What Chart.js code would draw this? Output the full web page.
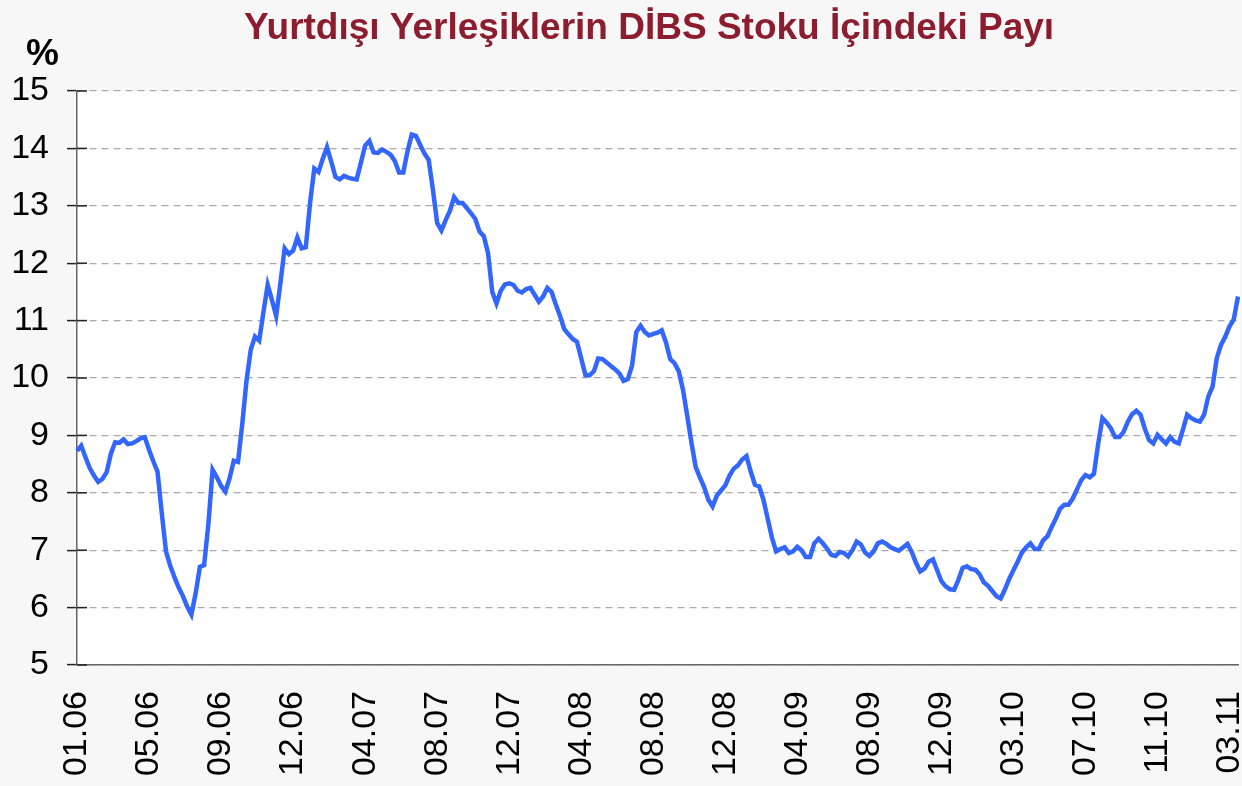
<!DOCTYPE html>
<html>
<head>
<meta charset="utf-8">
<script src="https://cdn.jsdelivr.net/npm/chart.js@4"></script>
<style>
  html, body { margin: 0; padding: 0; background: #f7f7f7; }
  #wrap { width: 1242px; height: 786px; }
</style>
</head>
<body>
<div id="wrap"><canvas id="payChart"></canvas></div>
<script>
const title = 'Yurtdışı Yerleşiklerin DİBS Stoku İçindeki Payı';
const unit = '%';
// every 17th week gets a label
const tickLabels = ['01.06','05.06','09.06','12.06','04.07','08.07','12.07','04.08','08.08',
  '12.08','04.09','08.09','12.09','03.10','07.10','11.10','03.11'];
// weekly share, %
const pay = [
  8.73, 8.82, 8.62, 8.43, 8.30, 8.19, 8.24, 8.36, 8.68, 8.88,
  8.87, 8.93, 8.85, 8.86, 8.90, 8.95, 8.97, 8.75, 8.55, 8.37,
  7.65, 6.98, 6.73, 6.53, 6.35, 6.20, 6.02, 5.88, 6.25, 6.71,
  6.74, 7.45, 8.40, 8.27, 8.12, 8.02, 8.25, 8.56,
  8.54, 9.20, 9.95, 10.49, 10.72, 10.65, 11.15, 11.62, 11.36, 11.08,
  11.65, 12.26, 12.16, 12.22, 12.45, 12.26, 12.28, 13.05, 13.65, 13.59,
  13.82, 14.02, 13.77, 13.50, 13.46, 13.52, 13.49, 13.47, 13.46, 13.75,
  14.05, 14.13, 13.93, 13.92, 13.98, 13.94, 13.89, 13.78, 13.58,
  13.58, 13.95, 14.24, 14.22, 14.06, 13.91, 13.80, 13.28, 12.70, 12.57,
  12.75, 12.91, 13.15, 13.05, 13.05, 12.96, 12.87, 12.77, 12.55, 12.47,
  12.18, 11.50, 11.30, 11.52, 11.63, 11.65, 11.62, 11.52, 11.49, 11.55,
  11.57, 11.45, 11.33, 11.42, 11.57, 11.50, 11.28, 11.08, 10.85,
  10.76, 10.68, 10.63, 10.34, 10.05, 10.05, 10.12, 10.34, 10.33, 10.27,
  10.21, 10.15, 10.08, 9.95, 9.98, 10.22, 10.80, 10.91, 10.80, 10.74,
  10.77, 10.79, 10.83, 10.62, 10.33, 10.26, 10.12, 9.80, 9.35, 8.88,
  8.45, 8.27,
  8.10, 7.88, 7.76, 7.95, 8.04, 8.13, 8.30, 8.42, 8.48, 8.58,
  8.64, 8.37, 8.14, 8.11, 7.88, 7.55, 7.22, 6.98, 7.02, 7.05,
  6.95, 6.98, 7.06, 7.00, 6.88, 6.88, 7.12, 7.20, 7.12, 7.03,
  6.92, 6.90, 6.97, 6.95, 6.89, 7.00, 7.15, 7.10, 6.96, 6.90,
  6.98, 7.12, 7.15, 7.11, 7.05,
  7.02, 6.99, 7.05, 7.11, 6.97, 6.78, 6.63, 6.68, 6.80, 6.84,
  6.65, 6.46, 6.37, 6.32, 6.31, 6.48, 6.69, 6.72, 6.67, 6.66,
  6.58, 6.44, 6.38, 6.29, 6.20, 6.16, 6.32, 6.50, 6.65, 6.80,
  6.96, 7.05, 7.12, 7.02, 7.02, 7.17, 7.24, 7.40, 7.55,
  7.72, 7.79, 7.79, 7.90, 8.06, 8.22, 8.31, 8.27, 8.33, 8.85,
  9.30, 9.22, 9.12, 8.97, 8.97, 9.06, 9.24, 9.37, 9.43, 9.36,
  9.12, 8.92, 8.86, 9.01, 8.93, 8.86, 8.97, 8.89, 8.86, 9.10,
  9.36, 9.30, 9.26, 9.24, 9.36, 9.68, 9.85, 10.35, 10.58, 10.72,
  10.90, 11.02, 11.42
];
const weeks = pay.map((v, i) => i);

Chart.defaults.font.family = '"Liberation Sans", Arial, sans-serif';

// white plot area on a light grey page
const plotBg = {
  id: 'plotBg',
  beforeDraw(chart) {
    const { ctx, chartArea: a } = chart;
    ctx.save();
    ctx.fillStyle = '#fff';
    ctx.fillRect(a.left, a.top, a.right - a.left + 2, a.bottom - a.top);
    ctx.restore();
  }
};

// y ticks cross the axis, draw the inner half
const innerTicks = {
  id: 'innerTicks',
  beforeDatasetsDraw(chart) {
    const { ctx, chartArea: a, scales: { y } } = chart;
    ctx.save();
    ctx.strokeStyle = '#222';
    ctx.lineWidth = 1.5;
    y.ticks.forEach(t => {
      const py = y.getPixelForValue(t.value);
      ctx.beginPath();
      ctx.moveTo(a.left, py);
      ctx.lineTo(a.left + 10, py);
      ctx.stroke();
    });
    ctx.restore();
  }
};

const headings = {
  id: 'headings',
  afterDraw(chart) {
    const { ctx } = chart;
    ctx.save();
    ctx.font = 'bold 37px "Liberation Sans", Arial, sans-serif';
    ctx.textBaseline = 'alphabetic';
    ctx.fillStyle = '#8c1d2f';
    ctx.textAlign = 'center';
    ctx.fillText(title, 649, 39);
    ctx.fillStyle = '#000';
    ctx.textAlign = 'left';
    ctx.fillText(unit, 26, 65);
    ctx.restore();
  }
};

new Chart(document.getElementById('payChart'), {
  type: 'line',
  data: {
    labels: weeks,
    datasets: [{
      data: pay,
      borderColor: '#3366ff',
      borderWidth: 4.5,
      pointRadius: 0,
      tension: 0,
      fill: false
    }]
  },
  options: {
    responsive: true,
    maintainAspectRatio: false,
    animation: false,
    layout: { autoPadding: false, padding: { top: 91, right: 4, left: 0, bottom: 0 } },
    plugins: { legend: { display: false }, tooltip: { enabled: false } },
    scales: {
      x: {
        grid: { display: false, drawTicks: false },
        border: { display: true, color: '#666', width: 1.5 },
        ticks: {
          autoSkip: false,
          minRotation: 90,
          maxRotation: 90,
          padding: 26,
          color: '#000',
          font: { size: 34 },
          callback: (v, i) => i % 17 === 0 ? tickLabels[i / 17] : null
        },
        afterFit: s => {
          s.height = 121;
          // rotated labels would otherwise shrink the plot on the right
          s.paddingLeft = 0;
          s.paddingRight = 0;
        }
      },
      y: {
        min: 5,
        max: 15,
        ticks: { stepSize: 1, padding: 18, color: '#000', font: { size: 34 } },
        grid: { color: '#aaa', lineWidth: 1.2, tickLength: 10, tickColor: '#222', tickWidth: 1.5 },
        border: { display: true, color: '#666', width: 1.5, dash: [7, 5] },
        afterFit: s => { s.width = 77; }
      }
    }
  },
  plugins: [plotBg, innerTicks, headings]
});
</script>
</body>
</html>
